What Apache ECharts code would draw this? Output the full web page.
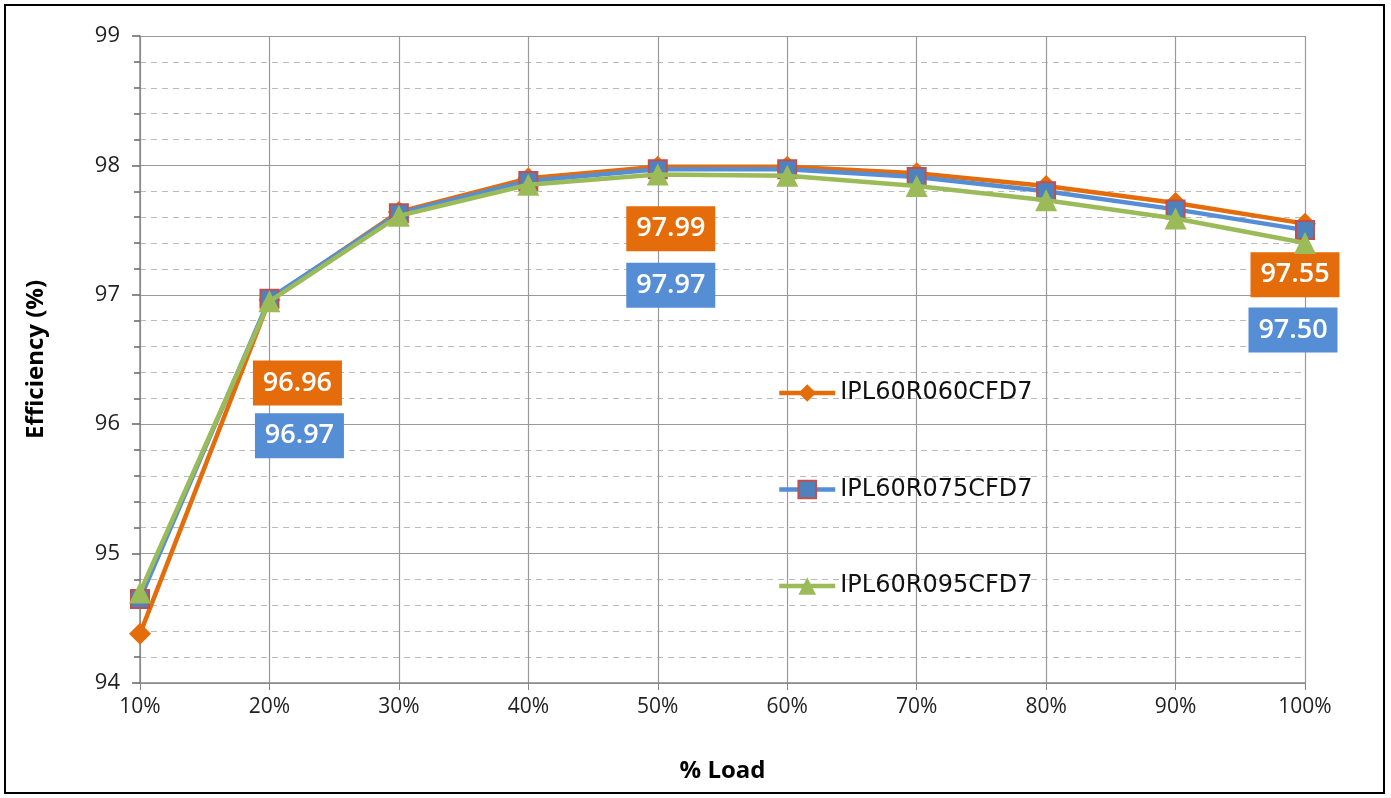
<!DOCTYPE html>
<html>
<head>
<meta charset="utf-8">
<script src="https://cdn.jsdelivr.net/npm/echarts@6/dist/echarts.min.js"></script>
<style>
html,body{margin:0;padding:0;background:#fff;}
#frame{position:absolute;left:4px;top:4px;width:1381px;height:790px;border:2px solid #000;box-sizing:border-box;}
#chart{position:absolute;left:0;top:0;width:1391px;height:798px;}
</style>
</head>
<body>
<div id="frame"></div>
<div id="chart"></div>
<script>
var categories = ['10%','20%','30%','40%','50%','60%','70%','80%','90%','100%'];
var seriesNames = ['IPL60R060CFD7','IPL60R075CFD7','IPL60R095CFD7'];
var s060 = [94.38, 96.96, 97.64, 97.90, 97.99, 97.99, 97.94, 97.84, 97.71, 97.55];
var s075 = [94.65, 96.97, 97.63, 97.88, 97.97, 97.97, 97.91, 97.80, 97.66, 97.50];
var s095 = [94.70, 96.95, 97.61, 97.85, 97.93, 97.92, 97.84, 97.73, 97.59, 97.40];
var labeledIdx = [1, 4, 9];

var FONT = 'Open Sans';
var orange = '#E46C0A', blue = '#558ED5', green = '#9BBB59', red = '#C0504D';

var labelOffsets060 = {1:[28,83], 4:[13,62], 9:[-10,51]};
var labelOffsets075 = {1:[30,137], 4:[13,116], 9:[-12,100]};

function buildData(vals, color, offsets) {
  return vals.map(function(v, i) {
    if (labeledIdx.indexOf(i) >= 0) {
      return {
        value: v,
        label: {
          show: true, position: 'inside', offset: offsets[i],
          formatter: function(p){ return p.value.toFixed(2); },
          color: '#fff', fontFamily: FONT, fontSize: 27, fontWeight: 600,
          backgroundColor: color, padding: [10, 6, 8, 6], width: 77, align: 'center'
        }
      };
    }
    return v;
  });
}

var chart = echarts.init(document.getElementById('chart'));
chart.setOption({
  animation: false,
  grid: {left: 140, right: 86, top: 36, bottom: 115, containLabel: false},
  legend: {
    orient: 'vertical', left: 772, top: 376, itemGap: 72.5,
    itemWidth: 56, itemHeight: 22,
    lineStyle: {width: 4.5},
    textStyle: {fontFamily: 'DejaVu Sans', fontSize: 24, color: '#111', padding: [0,0,0,0]},
    data: seriesNames
  },
  xAxis: {
    type: 'category', data: categories, boundaryGap: false,
    name: '% Load', nameLocation: 'middle', nameGap: 76,
    nameTextStyle: {fontFamily: FONT, fontSize: 24, fontWeight: 'bold', color: '#000'},
    axisLine: {lineStyle: {color: '#888', width: 1.5}},
    axisTick: {show: true, alignWithLabel: true, length: 7, lineStyle: {color: '#888'}},
    axisLabel: {fontFamily: FONT, fontSize: 21, color: '#222', margin: 14},
    splitLine: {show: true, lineStyle: {color: '#999', width: 1.2}}
  },
  yAxis: {
    type: 'value', min: 94, max: 99, interval: 1,
    name: 'Efficiency (%)', nameLocation: 'middle', nameGap: 92, nameRotate: 90,
    nameTextStyle: {fontFamily: FONT, fontSize: 24, fontWeight: 'bold', color: '#000'},
    axisLine: {show: true, lineStyle: {color: '#888', width: 1.5}},
    axisTick: {show: true, length: 8, lineStyle: {color: '#666', width: 1.5}},
    minorTick: {show: true, splitNumber: 5, length: 6, lineStyle: {color: '#666', width: 1.5}},
    axisLabel: {fontFamily: FONT, fontSize: 22, color: '#222', margin: 20},
    splitLine: {show: true, lineStyle: {color: '#999', width: 1.2}},
    minorSplitLine: {show: true, lineStyle: {color: '#bbb', type: [6, 5], width: 1}}
  },
  series: [
    {
      name: seriesNames[0], type: 'line', data: buildData(s060, orange, labelOffsets060),
      symbol: 'diamond', symbolSize: 22, z: 2,
      lineStyle: {color: orange, width: 4.5},
      itemStyle: {color: orange}
    },
    {
      name: seriesNames[1], type: 'line', data: buildData(s075, blue, labelOffsets075),
      symbol: 'rect', symbolSize: 18, z: 3,
      lineStyle: {color: blue, width: 4.5},
      itemStyle: {color: '#4F81BD', borderColor: red, borderWidth: 2}
    },
    {
      name: seriesNames[2], type: 'line', data: s095,
      symbol: 'triangle', symbolSize: 22, z: 4,
      lineStyle: {color: green, width: 4.5},
      itemStyle: {color: green}
    }
  ]
});
</script>
</body>
</html>
